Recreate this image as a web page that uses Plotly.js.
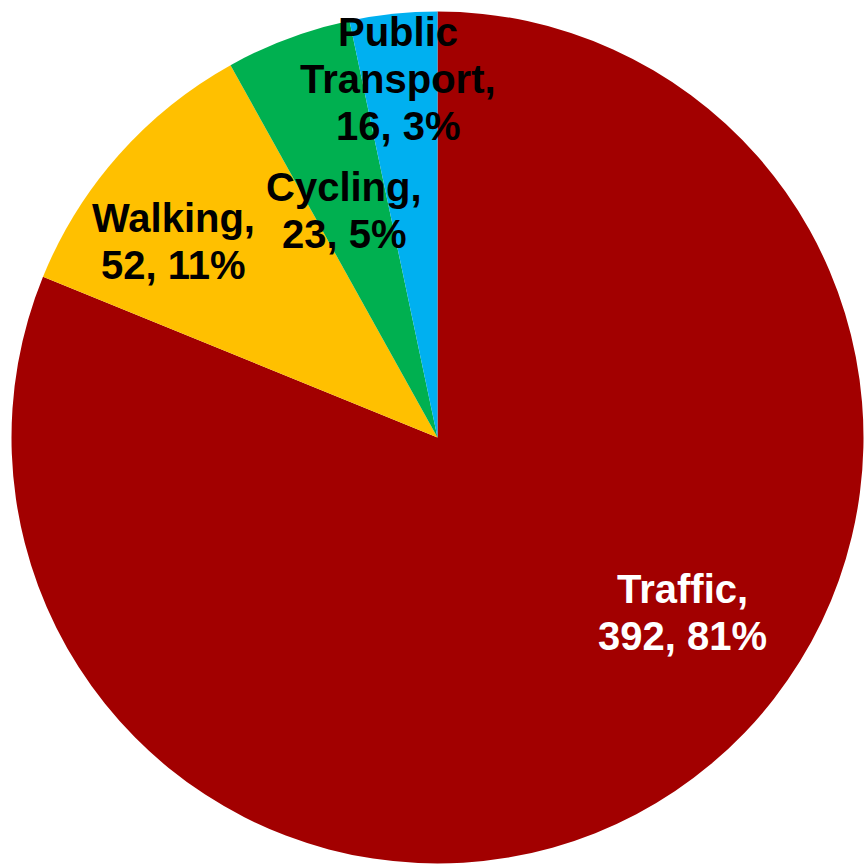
<!DOCTYPE html>
<html>
<head>
<meta charset="utf-8">
<script src="https://cdn.plot.ly/plotly-3.0.1.min.js"></script>
<style>
  html, body { margin: 0; padding: 0; background: #ffffff; }
  #chart { width: 866px; height: 865px; }
</style>
</head>
<body>
<div id="chart"></div>
<script>
// ---- data ----
const categories = ["Traffic", "Walking", "Cycling", "Public Transport"];
const values = [392, 52, 23, 16];
const colors = ["#A20000", "#FFC000", "#00B050", "#00B0F0"];
const labelColors = ["#ffffff", "#000000", "#000000", "#000000"];
// how each category name is split over lines in the labels
const nameLines = [["Traffic,"], ["Walking,"], ["Cycling,"], ["Public", "Transport,"]];
// label layout (pixel centre x, first line centre y) in the 866x865 frame
const labelPos = [[682, 589], [173, 218], [344, 187], [398, 32]];

const W = 866, H = 865;
const total = values.reduce((a, b) => a + b, 0);
const lineGap = 47;
const fontSize = 40;

const annotations = [];
categories.forEach((cat, i) => {
  const pct = Math.round(values[i] / total * 100);
  const lines = nameLines[i].concat([values[i] + ", " + pct + "%"]);
  lines.forEach((t, k) => {
    annotations.push({
      text: "<b>" + t + "</b>",
      xref: "paper", yref: "paper",
      x: labelPos[i][0] / W,
      y: 1 - (labelPos[i][1] + k * lineGap) / H,
      xanchor: "center", yanchor: "middle",
      showarrow: false,
      font: { family: "Liberation Sans, Arial, sans-serif", size: fontSize, color: labelColors[i] }
    });
  });
});

const cx = 437.5, cy = 437.5, r = 426;
const trace = {
  type: "pie",
  labels: categories,
  values: values,
  sort: false,
  direction: "clockwise",
  rotation: 0,
  marker: { colors: colors, line: { width: 0 } },
  textinfo: "none",
  hoverinfo: "skip",
  domain: {
    x: [(cx - r) / W, (cx + r) / W],
    y: [1 - (cy + r) / H, 1 - (cy - r) / H]
  }
};

const layout = {
  width: W, height: H,
  margin: { l: 0, r: 0, t: 0, b: 0 },
  paper_bgcolor: "#ffffff",
  showlegend: false,
  annotations: annotations
};

Plotly.newPlot("chart", [trace], layout, { staticPlot: true, displayModeBar: false });
</script>
</body>
</html>
